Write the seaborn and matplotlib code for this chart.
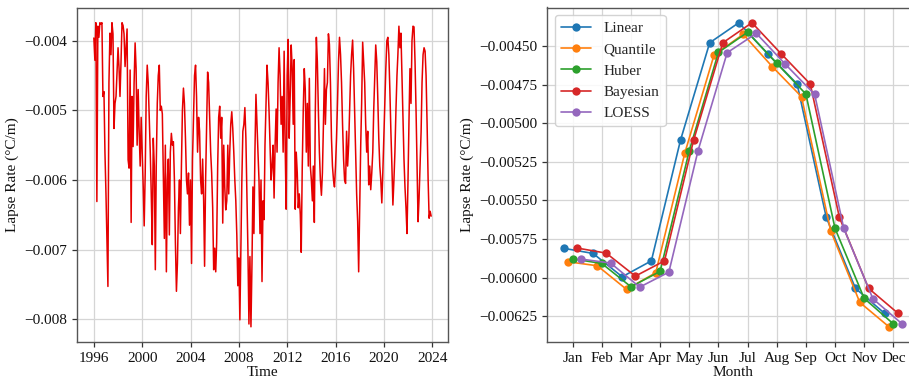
import numpy as np
import pandas as pd
import matplotlib
matplotlib.use("Agg")
import matplotlib.pyplot as plt
import matplotlib.dates as mdates
import seaborn as sns

# ---------------- data ----------------
start_month = "1996-01-01"
# monthly lapse rate, in 1e-3 °C/m (one row per year, Jan..Dec)
lapse_rate_mK = [
    -3.96, -4.28, -3.74, -6.31, -3.79, -3.95, -3.74, -3.76, -3.74, -4.80, -4.73, -5.60,  # 1996
    -6.20, -6.90, -7.53, -4.60, -3.89, -4.20, -3.74, -3.90, -5.26, -4.90, -4.80, -4.45,  # 1997
    -4.10, -4.40, -4.80, -4.30, -3.74, -3.78, -3.90, -4.37, -4.10, -3.83, -5.71, -5.83,  # 1998
    -4.42, -6.61, -4.80, -5.52, -4.61, -4.03, -4.40, -5.50, -4.70, -5.30, -5.80, -5.10,  # 1999
    -5.60, -6.10, -6.66, -5.90, -4.80, -4.35, -4.60, -5.10, -5.60, -6.20, -6.93, -5.40,  # 2000
    -5.80, -7.29, -5.80, -4.90, -4.50, -4.35, -5.00, -4.94, -5.05, -5.90, -6.84, -5.50,  # 2001
    -7.32, -6.00, -5.70, -6.79, -5.60, -5.33, -5.50, -5.45, -6.00, -6.90, -7.60, -7.20,  # 2002
    -6.40, -6.00, -6.77, -5.80, -5.00, -4.68, -4.90, -5.40, -6.00, -6.20, -5.90, -6.65,  # 2003
    -6.00, -7.20, -5.70, -5.10, -4.50, -4.35, -4.80, -5.60, -5.10, -5.30, -6.00, -6.20,  # 2004
    -5.70, -6.30, -7.24, -6.00, -5.20, -4.45, -4.60, -5.10, -5.60, -5.90, -6.40, -7.29,  # 2005
    -6.98, -7.32, -6.90, -5.80, -5.10, -4.94, -5.40, -5.10, -6.62, -5.50, -6.10, -6.43,  # 2006
    -6.30, -5.50, -6.20, -5.60, -5.20, -5.02, -5.26, -5.60, -6.00, -6.30, -6.80, -7.52,  # 2007
    -7.12, -8.01, -7.00, -6.00, -5.30, -5.20, -4.96, -5.40, -6.20, -7.00, -8.07, -7.10,  # 2008
    -8.11, -7.20, -6.10, -6.77, -5.60, -4.77, -5.20, -5.60, -6.00, -6.77, -6.00, -7.46,  # 2009
    -6.30, -6.57, -5.50, -4.90, -4.35, -4.60, -5.00, -5.50, -6.00, -5.80, -5.50, -6.26,  # 2010
    -5.50, -4.98, -5.60, -4.60, -4.10, -4.50, -5.20, -4.80, -5.60, -4.15, -5.50, -6.42,  # 2011
    -4.50, -3.98, -5.40, -4.80, -4.06, -4.40, -5.20, -4.27, -6.42, -5.60, -5.90, -6.40,  # 2012
    -6.20, -6.50, -7.04, -5.80, -5.00, -4.40, -4.70, -5.60, -4.90, -5.80, -4.54, -5.80,  # 2013
    -6.00, -6.30, -5.80, -6.61, -5.00, -3.95, -4.30, -5.00, -5.60, -6.00, -6.22, -5.90,  # 2014
    -5.20, -4.40, -5.20, -4.70, -4.60, -3.90, -4.05, -4.60, -5.40, -5.80, -6.00, -6.10,  # 2015
    -5.80, -5.40, -4.90, -4.30, -3.95, -4.20, -4.60, -5.20, -5.70, -6.00, -6.05, -5.30,  # 2016
    -5.80, -5.50, -5.00, -4.50, -4.20, -3.99, -4.40, -5.00, -5.60, -6.20, -6.60, -7.32,  # 2017
    -6.40, -5.50, -4.90, -4.02, -4.30, -4.60, -5.20, -5.60, -5.30, -6.07, -5.80, -6.14,  # 2018
    -5.90, -5.60, -5.00, -4.50, -4.06, -4.30, -4.80, -5.40, -5.80, -6.00, -6.33, -5.90,  # 2019
    -5.40, -4.90, -4.40, -4.00, -3.95, -4.20, -4.70, -5.30, -5.80, -6.36, -6.00, -5.60,  # 2020
    -5.00, -4.50, -4.20, -3.79, -4.10, -3.89, -4.50, -5.10, -5.70, -6.10, -6.40, -6.77,  # 2021
    -6.00, -5.10, -4.40, -4.90, -4.00, -3.79, -3.80, -4.30, -5.00, -5.80, -6.60, -6.26,  # 2022
    -5.80, -5.30, -4.60, -4.20, -4.10, -4.15, -4.50, -5.20, -6.00, -6.55, -6.45, -6.52,  # 2023
]

months = ["Jan", "Feb", "Mar", "Apr", "May", "Jun", "Jul", "Aug", "Sep", "Oct", "Nov", "Dec"]
linear   = [-0.005810, -0.005843, -0.005994, -0.005891, -0.005109, -0.004479,
            -0.004349, -0.004552, -0.004746, -0.005610, -0.006069, -0.006231]
quantile = [-0.005897, -0.005923, -0.006076, -0.005968, -0.005191, -0.004558,
            -0.004424, -0.004634, -0.004828, -0.005696, -0.006160, -0.006318]
huber    = [-0.005878, -0.005908, -0.006059, -0.005959, -0.005178, -0.004541,
            -0.004411, -0.004612, -0.004811, -0.005681, -0.006134, -0.006299]
bayesian = [-0.005808, -0.005841, -0.005990, -0.005891, -0.005109, -0.004479,
            -0.004349, -0.004550, -0.004746, -0.005610, -0.006069, -0.006229]
loess    = [-0.005880, -0.005905, -0.006061, -0.005964, -0.005178, -0.004543,
            -0.004418, -0.004619, -0.004813, -0.005681, -0.006137, -0.006299]

left_yticks = [-0.008, -0.007, -0.006, -0.005, -0.004]
right_yticks = [-0.00625, -0.00600, -0.00575, -0.00550, -0.00525, -0.00500, -0.00475, -0.00450]

# ---------------- style ----------------
sns.set_theme(style="ticks")
plt.rcParams['font.family'] = ['Liberation Serif', 'DejaVu Serif']
plt.rcParams['font.size'] = 11
plt.rcParams['axes.labelsize'] = 11
plt.rcParams['xtick.labelsize'] = 11
plt.rcParams['ytick.labelsize'] = 11
plt.rcParams['axes.edgecolor'] = '#555555'
plt.rcParams['axes.linewidth'] = 1.0
plt.rcParams['xtick.color'] = '#333333'
plt.rcParams['ytick.color'] = '#333333'
plt.rcParams['xtick.labelcolor'] = '#111111'
plt.rcParams['ytick.labelcolor'] = '#111111'
plt.rcParams['axes.labelcolor'] = '#111111'

W, H = 909, 382
fig = plt.figure(figsize=(W / 100, H / 100), dpi=100)
bottom = 1 - 342 / H
height = (342 - 7.5) / H
ax1 = fig.add_axes([77 / W, bottom, 371 / W, height])
ax2 = fig.add_axes([547 / W, bottom, 372 / W, height])

# ---------------- left: time series ----------------
dates = pd.date_range(start_month, periods=len(lapse_rate_mK), freq="MS")
df_ts = pd.DataFrame({"Time": dates, "Lapse": np.array(lapse_rate_mK) * 1e-3})
sns.lineplot(data=df_ts, x="Time", y="Lapse", color="#e60000", linewidth=1.1, ax=ax1)
ax1.xaxis.set_major_locator(mdates.YearLocator(4))
ax1.xaxis.set_major_formatter(mdates.DateFormatter("%Y"))
ax1.set_yticks(left_yticks)
ax1.set_xlabel("Time", labelpad=1)
ax1.set_ylabel("Lapse Rate (°C/m)")

# ---------------- right: monthly curves ----------------
series = [("Linear", linear, "#1f77b4"),
          ("Quantile", quantile, "#ff7f0e"),
          ("Huber", huber, "#2ca02c"),
          ("Bayesian", bayesian, "#d62728"),
          ("LOESS", loess, "#9467bd")]
offsets = [-0.3, -0.15, 0.0, 0.15, 0.3]
for (name, vals, col), off in zip(series, offsets):
    xpos = np.arange(len(months)) + off
    sns.lineplot(x=xpos, y=vals, marker="o", markersize=6, markeredgewidth=0,
                 markeredgecolor=col, color=col, linewidth=1.2, label=name, ax=ax2)
ax2.set_xticks(np.arange(len(months)))
ax2.set_xticklabels(months)
ax2.set_yticks(right_yticks)
ax2.set_xlabel("Month", labelpad=1)
ax2.set_ylabel("Lapse Rate (°C/m)")
ax2.legend(loc="upper left", fontsize=11, frameon=True, edgecolor="#cccccc",
           fancybox=True, framealpha=0.85, borderaxespad=0.5)

for ax in (ax1, ax2):
    ax.grid(True, color="#d5d5d5", linewidth=0.9)
    ax.set_axisbelow(True)
    ax.tick_params(length=3.5, width=0.9)
    for s in ax.spines.values():
        s.set_visible(True)

fig.savefig("out.png", dpi=100)
